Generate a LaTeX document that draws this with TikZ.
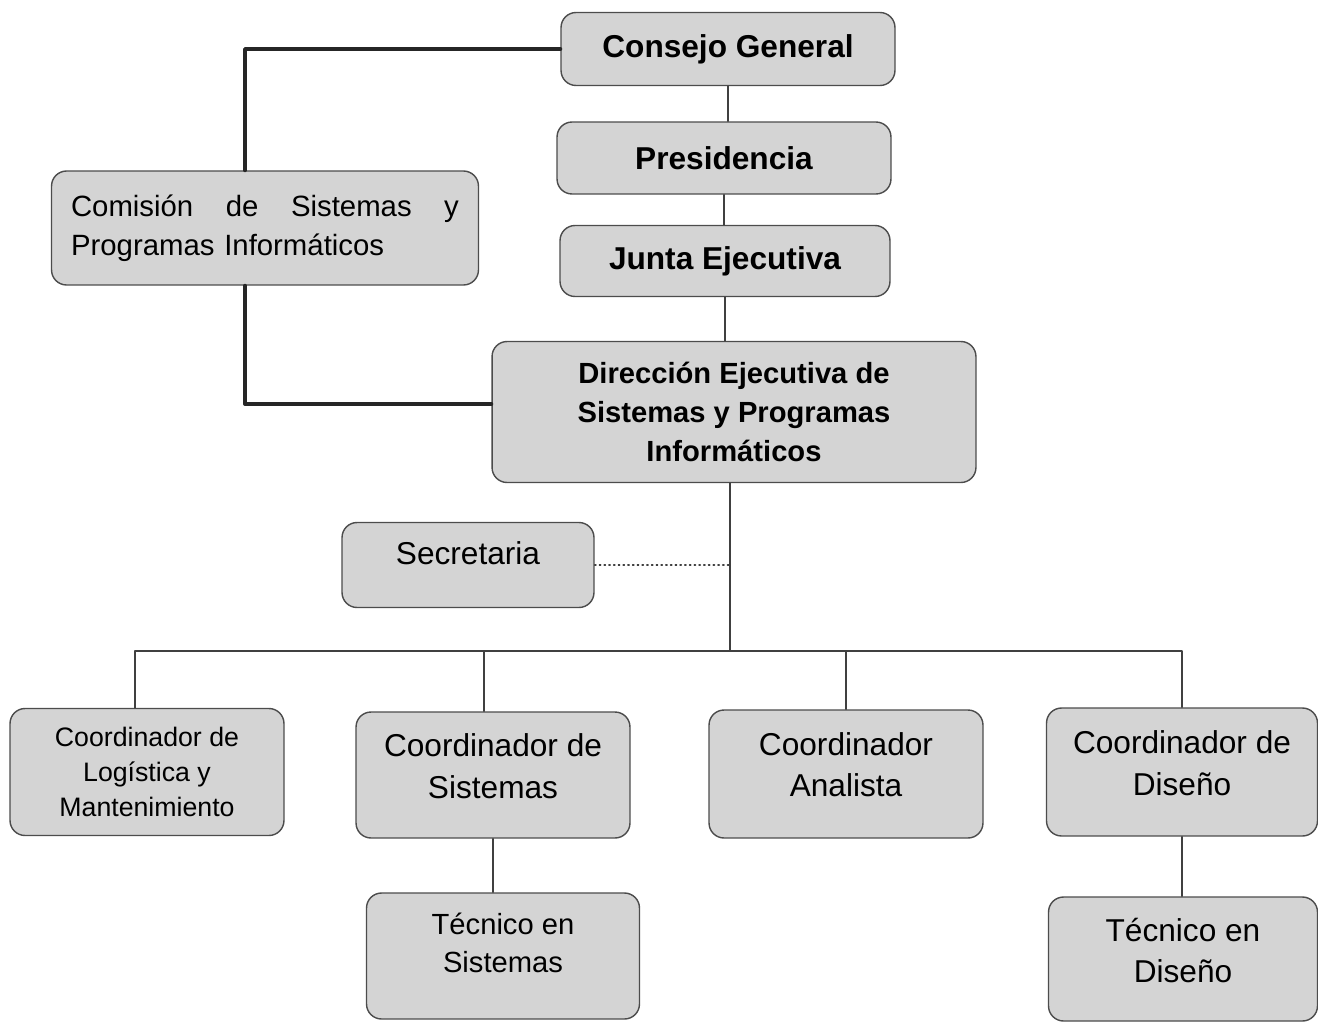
\documentclass[tikz,border=0pt]{standalone}
\usepackage{fontspec}
\setmainfont{Liberation Sans}
\usetikzlibrary{calc}

\begin{document}
\begin{tikzpicture}[x=0.02cm, y=-0.02cm, line cap=round, line join=round,
	box/.style={draw=black!70, fill=black!17, rounded corners=0.3cm, line width=0.8pt,
		align=center, inner sep=0pt},
	head/.style={box, font=\bfseries\fontsize{18}{23}\selectfont},
	unit/.style={box, font=\fontsize{18}{23.5}\selectfont},
	lift/.style={text depth=#1},
	link/.style={draw=black!75, line width=0.7pt},
	heavy/.style={draw=black!85, line width=2.2pt}]

\useasboundingbox (0,0) rectangle (1318,1021);

%========================
% upper chain
%========================
\node[head, minimum width=6.68cm, minimum height=1.46cm] (consejo) at (728,49) {Consejo General};
\node[head, minimum width=6.68cm, minimum height=1.44cm] (presid) at (724,158) {Presidencia};
\node[head, minimum width=6.60cm, minimum height=1.42cm] (junta) at (725,261) {Junta Ejecutiva};
\node[box, font=\bfseries\fontsize{16.6}{22.2}\selectfont,
	minimum width=9.68cm, minimum height=2.82cm] (direccion) at (734,412)
	{Dirección Ejecutiva de\\Sistemas y Programas\\Informáticos};

% commission on the left
\node[box, font=\fontsize{16.7}{22}\selectfont, align=left, text width=7.76cm,
	minimum width=8.54cm, minimum height=2.28cm] (comision) at (265,228)
	{Comisión\hfill de\hfill Sistemas\hfill y\\Programas Informáticos};

\node[unit, lift=0.48cm, minimum width=5.04cm, minimum height=1.70cm] (secretaria) at (468,565) {Secretaria};

%========================
% coordinators
%========================
\node[box, font=\fontsize{15.2}{20}\selectfont,
	minimum width=5.48cm, minimum height=2.54cm] (logistica) at (147,772)
	{Coordinador de\\Logística y\\Mantenimiento};
\node[unit, lift=0.36cm, minimum width=5.48cm, minimum height=2.52cm] (csistemas) at (493,775) {Coordinador de\\Sistemas};
\node[unit, lift=0.38cm, minimum width=5.48cm, minimum height=2.56cm] (analista) at (846,774) {Coordinador\\Analista};
\node[unit, lift=0.36cm, minimum width=5.42cm, minimum height=2.56cm] (cdiseno) at (1182,772) {Coordinador de\\Diseño};

% technicians
\node[box, font=\fontsize{16.6}{21.6}\selectfont, lift=0.52cm,
	minimum width=5.46cm, minimum height=2.52cm] (tsistemas) at (503,956) {Técnico en\\Sistemas};
\node[unit, lift=0.34cm, minimum width=5.38cm, minimum height=2.48cm] (tdiseno) at (1183,959) {Técnico en\\Diseño};

%========================
% connectors
%========================
\coordinate (lk) at (245,404);
\coordinate (bus) at (730,651);

\draw[link] (consejo.south) -- (consejo.south |- presid.north);
\draw[link] (presid.south) -- (presid.south |- junta.north);
\draw[link] (junta.south) -- (junta.south |- direccion.north);

% heavy line through the commission
\draw[heavy] (consejo.west) -| (comision.north -| lk);
\draw[heavy] (comision.south -| lk) -- (lk) -- (lk -| direccion.west);

% down to the bus
\draw[link] (direccion.south -| bus) -- (bus);
\draw[link, dotted, line width=0.9pt] (secretaria.east) -- (secretaria.east -| bus);
\draw[link] ([xshift=-0.24cm]logistica.north) |- (bus) -| (cdiseno.north);
\draw[link] ([xshift=-0.18cm]csistemas.north) -- ([xshift=-0.18cm]csistemas.north |- bus);
\draw[link] (analista.north) -- (analista.north |- bus);

\draw[link] (csistemas.south) -- (csistemas.south |- tsistemas.north);
\draw[link] (cdiseno.south) -- (cdiseno.south |- tdiseno.north);

\end{tikzpicture}
\end{document}
